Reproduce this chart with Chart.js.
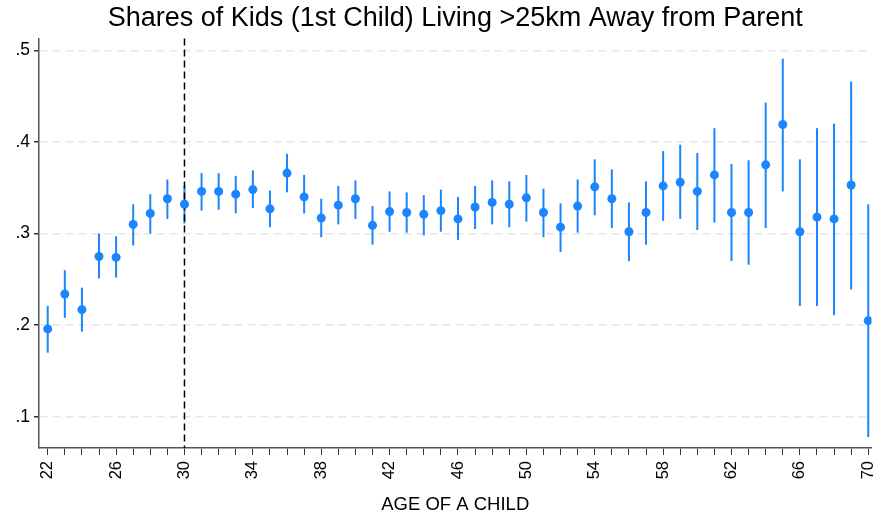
<!DOCTYPE html>
<html lang="en">
<head>
    <meta charset="UTF-8">
    <title>Shares of Kids Living Away</title>
    <script src="https://cdn.jsdelivr.net/npm/chart.js"></script>
    <style>
        html, body {
            margin: 0;
            padding: 0;
            background: #fff;
        }
        #wrap {
            width: 876px;
            height: 517px;
        }
    </style>
</head>
<body>
    <div id="wrap"><canvas id="sharesChart"></canvas></div>

    <script>
        // ages of the child
        const ages = [22, 23, 24, 25, 26, 27, 28, 29, 30, 31, 32, 33, 34, 35, 36, 37, 38, 39, 40, 41, 42, 43, 44, 45, 46,
            47, 48, 49, 50, 51, 52, 53, 54, 55, 56, 57, 58, 59, 60, 61, 62, 63, 64, 65, 66, 67, 68, 69, 70];
        // point estimates
        const shares = [0.196, 0.234, 0.217, 0.275, 0.274, 0.310, 0.322, 0.338, 0.332, 0.346, 0.346, 0.343, 0.348, 0.327, 0.366,
            0.340, 0.317, 0.331, 0.338, 0.309, 0.324, 0.323, 0.321, 0.325, 0.316, 0.329, 0.334, 0.332, 0.339, 0.323,
            0.307, 0.330, 0.351, 0.338, 0.302, 0.323, 0.352, 0.356, 0.346, 0.364, 0.323, 0.323, 0.375, 0.419, 0.302,
            0.318, 0.316, 0.353, 0.205];
        // confidence interval bounds
        const upper = [0.221, 0.260, 0.241, 0.300, 0.297, 0.332, 0.343, 0.359, 0.352, 0.366, 0.366, 0.363, 0.369, 0.347, 0.387,
            0.364, 0.338, 0.352, 0.358, 0.330, 0.346, 0.345, 0.342, 0.348, 0.340, 0.352, 0.358, 0.357, 0.364, 0.349,
            0.333, 0.359, 0.381, 0.370, 0.334, 0.357, 0.390, 0.397, 0.388, 0.415, 0.376, 0.380, 0.443, 0.491, 0.381,
            0.415, 0.420, 0.466, 0.332];
        const lower = [0.170, 0.208, 0.193, 0.251, 0.252, 0.287, 0.300, 0.316, 0.311, 0.325, 0.326, 0.322, 0.328, 0.307, 0.345,
            0.322, 0.296, 0.310, 0.316, 0.288, 0.302, 0.301, 0.298, 0.302, 0.293, 0.305, 0.310, 0.307, 0.313, 0.296,
            0.280, 0.301, 0.320, 0.306, 0.270, 0.288, 0.314, 0.316, 0.304, 0.312, 0.270, 0.266, 0.306, 0.346, 0.221,
            0.221, 0.211, 0.239, 0.078];
        // tick values
        const yTicks = [0.1, 0.2, 0.3, 0.4, 0.5];
        const xLabelTicks = [22, 26, 30, 34, 38, 42, 46, 50, 54, 58, 62, 66, 70];
        const cutoffAge = 30;

        const blue = '#1a85ff';
        const font = 'Arial, "Liberation Sans", sans-serif';

        // draws the CI spikes and the dashed reference line using the chart scales
        const extras = {
            id: 'extras',
            beforeDatasetsDraw(chart) {
                const ctx = chart.ctx;
                const xs = chart.scales.x;
                const ys = chart.scales.y;
                const area = chart.chartArea;
                ctx.save();
                ctx.strokeStyle = blue;
                ctx.lineWidth = 2;
                ages.forEach((a, i) => {
                    const px = xs.getPixelForValue(a);
                    ctx.beginPath();
                    ctx.moveTo(px, ys.getPixelForValue(lower[i]));
                    ctx.lineTo(px, ys.getPixelForValue(upper[i]));
                    ctx.stroke();
                });
                // vertical dashed line at 30
                const cx = xs.getPixelForValue(cutoffAge);
                ctx.strokeStyle = '#000';
                ctx.lineWidth = 1.5;
                ctx.setLineDash([7, 4]);
                ctx.beginPath();
                ctx.moveTo(cx, area.top);
                ctx.lineTo(cx, area.bottom);
                ctx.stroke();
                ctx.restore();
            }
        };

        const ctx = document.getElementById('sharesChart').getContext('2d');
        const chart = new Chart(ctx, {
            type: 'scatter',
            data: {
                datasets: [{
                    label: 'Share',
                    data: ages.map((a, i) => ({ x: a, y: shares[i] })),
                    backgroundColor: blue,
                    borderColor: blue,
                    pointRadius: 4.5,
                    pointHoverRadius: 4.5,
                    borderWidth: 0
                }]
            },
            options: {
                responsive: true,
                maintainAspectRatio: false,
                animation: false,
                layout: {
                    padding: { left: 0, right: 0, top: 0, bottom: 0 }
                },
                plugins: {
                    legend: { display: false },
                    tooltip: { enabled: false },
                    title: {
                        display: true,
                        fullSize: false,
                        text: 'Shares of Kids (1st Child) Living >25km Away from Parent',
                        color: '#000',
                        font: { family: font, size: 27, weight: 'normal' },
                        padding: { top: 2, bottom: 4 }
                    }
                },
                scales: {
                    x: {
                        type: 'linear',
                        min: 21.49,
                        max: 70.19,
                        afterBuildTicks: (scale) => {
                            scale.ticks = ages.map(v => ({ value: v }));
                        },
                        afterFit: (scale) => {
                            scale.height = 69;
                            scale.paddingLeft = 0;
                            scale.paddingRight = 0;
                        },
                        ticks: {
                            autoSkip: false,
                            maxRotation: 90,
                            minRotation: 90,
                            color: '#000',
                            padding: 6,
                            font: { family: font, size: 16.5 },
                            callback: (v) => xLabelTicks.includes(v) ? String(v) : ''
                        },
                        grid: {
                            drawOnChartArea: false,
                            drawTicks: true,
                            tickLength: 7,
                            color: '#333'
                        },
                        border: { color: '#555', width: 1.5 },
                        title: {
                            display: true,
                            text: 'AGE OF A CHILD',
                            color: '#000',
                            font: { family: font, size: 18.5 },
                            padding: { top: 0, bottom: 1 }
                        }
                    },
                    y: {
                        type: 'linear',
                        min: 0.066,
                        max: 0.513,
                        afterBuildTicks: (scale) => {
                            scale.ticks = yTicks.map(v => ({ value: v }));
                        },
                        afterFit: (scale) => {
                            scale.width = 39;
                            scale.paddingTop = 0;
                            scale.paddingBottom = 0;
                        },
                        ticks: {
                            color: '#000',
                            padding: 4,
                            font: { family: font, size: 17.5 },
                            callback: (v) => String(v.toFixed(1)).replace('0.', '.')
                        },
                        grid: {
                            drawTicks: true,
                            tickLength: 5,
                            color: '#e6e6e6',
                            tickColor: '#333',
                            lineWidth: 1.5
                        },
                        border: { color: '#555', width: 1.5, dash: [8, 5] }
                    }
                }
            },
            plugins: [extras]
        });
    </script>
</body>
</html>
